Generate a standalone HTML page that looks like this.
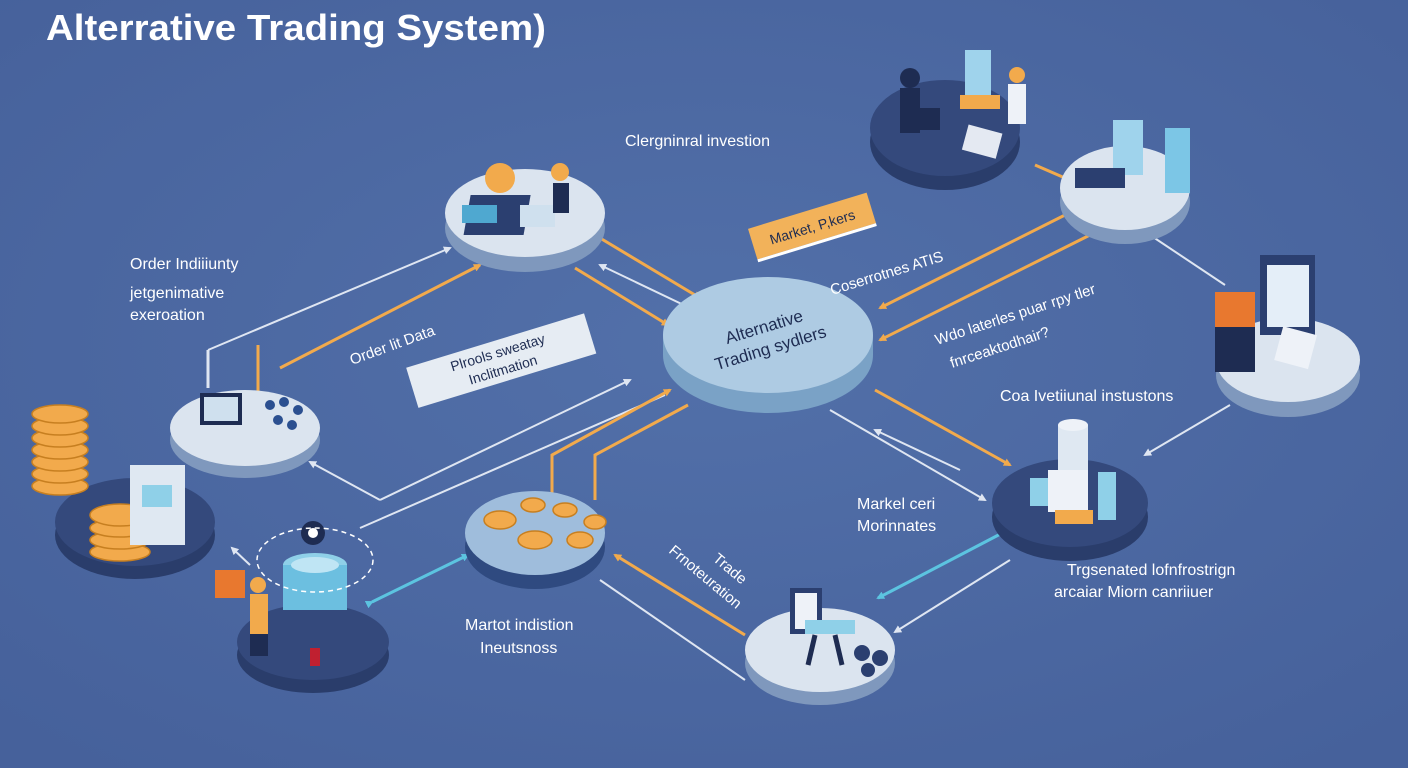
<!DOCTYPE html>
<html><head><meta charset="utf-8"><style>
html,body{margin:0;padding:0;background:#4a66a0;}
svg{display:block;font-family:"Liberation Sans",sans-serif;}
</style></head><body>
<svg width="1408" height="768" viewBox="0 0 1408 768" xmlns="http://www.w3.org/2000/svg">
<defs>
<radialGradient id="bg" cx="50%" cy="45%" r="70%"><stop offset="0" stop-color="#5270a9"/><stop offset="1" stop-color="#46619b"/></radialGradient>
<marker id="ao" markerWidth="8" markerHeight="8" refX="6" refY="4" orient="auto" markerUnits="userSpaceOnUse"><path d="M0,0 L8,4 L0,8 Z" fill="#f2aa4c"/></marker>
<marker id="aw" markerWidth="8" markerHeight="8" refX="6" refY="4" orient="auto" markerUnits="userSpaceOnUse"><path d="M0,0 L8,4 L0,8 Z" fill="#dfe6f2"/></marker>
<marker id="ac" markerWidth="8" markerHeight="8" refX="6" refY="4" orient="auto" markerUnits="userSpaceOnUse"><path d="M0,0 L8,4 L0,8 Z" fill="#5cc4e0"/></marker>
</defs>
<rect width="1408" height="768" fill="url(#bg)"/>
<text x="46" y="40" font-size="36" font-weight="bold" fill="#fff" textLength="500" lengthAdjust="spacingAndGlyphs">Alterrative Trading System)</text>

<!-- connectors -->
<g stroke-width="3" fill="none">
<line x1="280" y1="368" x2="480" y2="265" stroke="#f2aa4c" marker-end="url(#ao)"/>
<line x1="208" y1="388" x2="208" y2="350" stroke="#dfe6f2"/>
<polyline points="208,350 450,248" stroke="#dfe6f2" stroke-width="2" marker-end="url(#aw)"/>
<line x1="258" y1="410" x2="258" y2="345" stroke="#f2aa4c"/>
<line x1="575" y1="268" x2="668" y2="325" stroke="#f2aa4c" marker-end="url(#ao)"/>
<line x1="600" y1="238" x2="700" y2="298" stroke="#f2aa4c" marker-end="url(#ao)"/>
<line x1="690" y1="308" x2="600" y2="265" stroke="#dfe6f2" stroke-width="2" marker-end="url(#aw)"/>
<line x1="1065" y1="215" x2="880" y2="308" stroke="#f2aa4c" marker-end="url(#ao)"/>
<line x1="1100" y1="230" x2="880" y2="340" stroke="#f2aa4c" marker-end="url(#ao)"/>
<line x1="1035" y1="165" x2="1065" y2="178" stroke="#f2aa4c"/>
<line x1="1150" y1="235" x2="1225" y2="285" stroke="#dfe6f2" stroke-width="2"/>
<line x1="1230" y1="405" x2="1145" y2="455" stroke="#dfe6f2" stroke-width="2" marker-end="url(#aw)"/>
<line x1="875" y1="390" x2="1010" y2="465" stroke="#f2aa4c" marker-end="url(#ao)"/>
<line x1="830" y1="410" x2="985" y2="500" stroke="#dfe6f2" stroke-width="2" marker-end="url(#aw)"/>
<line x1="960" y1="470" x2="875" y2="430" stroke="#dfe6f2" stroke-width="2" marker-end="url(#aw)"/>
<line x1="1008" y1="530" x2="878" y2="598" stroke="#5cc4e0" marker-end="url(#ac)"/>
<line x1="1010" y1="560" x2="895" y2="632" stroke="#dfe6f2" stroke-width="2" marker-end="url(#aw)"/>
<line x1="380" y1="500" x2="630" y2="380" stroke="#dfe6f2" stroke-width="2" marker-end="url(#aw)"/>
<polyline points="380,500 310,462" stroke="#dfe6f2" stroke-width="2" marker-end="url(#aw)"/>
<line x1="360" y1="528" x2="665" y2="395" stroke="#dfe6f2" stroke-width="2"/>
<polyline points="552,495 552,455 670,390" stroke="#f2aa4c" marker-end="url(#ao)"/>
<polyline points="595,500 595,455 688,405" stroke="#f2aa4c"/>
<line x1="745" y1="635" x2="615" y2="555" stroke="#f2aa4c" marker-end="url(#ao)"/>
<line x1="745" y1="680" x2="600" y2="580" stroke="#dfe6f2" stroke-width="2"/>
<line x1="372" y1="602" x2="468" y2="555" stroke="#5cc4e0" marker-start="url(#ac)" marker-end="url(#ac)"/>
<line x1="250" y1="565" x2="232" y2="548" stroke="#dfe6f2" stroke-width="2" marker-end="url(#aw)"/>
</g>

<!-- discs -->
<g>
<ellipse cx="525" cy="228" rx="80" ry="44" fill="#7f98bd"/><ellipse cx="525" cy="213" rx="80" ry="44" fill="#dbe4ef"/>
<ellipse cx="945" cy="142" rx="75" ry="48" fill="#2a3d6b"/><ellipse cx="945" cy="128" rx="75" ry="48" fill="#34497c"/>
<ellipse cx="1125" cy="202" rx="65" ry="42" fill="#7f98bd"/><ellipse cx="1125" cy="188" rx="65" ry="42" fill="#dbe4ef"/>
<ellipse cx="1288" cy="375" rx="72" ry="42" fill="#7f98bd"/><ellipse cx="1288" cy="360" rx="72" ry="42" fill="#dbe4ef"/>
<ellipse cx="768" cy="355" rx="105" ry="58" fill="#7aa2c6"/><rect x="663" y="335" width="210" height="20" fill="#7aa2c6"/><ellipse cx="768" cy="335" rx="105" ry="58" fill="#aecbe3"/>
<ellipse cx="245" cy="440" rx="75" ry="38" fill="#7f98bd"/><ellipse cx="245" cy="428" rx="75" ry="38" fill="#dbe4ef"/>
<ellipse cx="135" cy="535" rx="80" ry="44" fill="#2a3d6b"/><ellipse cx="135" cy="522" rx="80" ry="44" fill="#34497c"/>
<ellipse cx="313" cy="655" rx="76" ry="38" fill="#2a3d6b"/><ellipse cx="313" cy="642" rx="76" ry="38" fill="#34497c"/>
<ellipse cx="535" cy="547" rx="70" ry="42" fill="#2f4a80"/><ellipse cx="535" cy="533" rx="70" ry="42" fill="#9fbddc"/>
<ellipse cx="820" cy="663" rx="75" ry="42" fill="#7f98bd"/><ellipse cx="820" cy="650" rx="75" ry="42" fill="#dbe4ef"/>
<ellipse cx="1070" cy="517" rx="78" ry="44" fill="#2a3d6b"/><ellipse cx="1070" cy="503" rx="78" ry="44" fill="#34497c"/>
</g>

<!-- icons (simplified) -->
<g>
<rect x="505" y="195" width="60" height="40" fill="#2b3f70" transform="skewX(-10)"/><rect x="520" y="205" width="35" height="22" fill="#cfe0ee"/>
<circle cx="500" cy="178" r="15" fill="#f2aa4c"/><rect x="462" y="205" width="35" height="18" fill="#4fa8d0"/>
<circle cx="560" cy="172" r="9" fill="#f2aa4c"/><rect x="553" y="183" width="16" height="30" fill="#1e2c52"/>
<rect x="965" y="50" width="26" height="55" fill="#9fd3ec"/><rect x="960" y="95" width="40" height="14" fill="#f2aa4c"/>
<circle cx="910" cy="78" r="10" fill="#1e2c52"/><rect x="900" y="88" width="20" height="45" fill="#1e2c52"/>
<rect x="912" y="108" width="28" height="22" fill="#1e2c52"/>
<circle cx="1017" cy="75" r="8" fill="#f2aa4c"/><rect x="1008" y="84" width="18" height="40" fill="#eef2f8"/>
<rect x="965" y="128" width="35" height="26" fill="#e4e9f2" transform="rotate(15 980 140)"/>
<rect x="1113" y="120" width="30" height="55" fill="#9fd3ec"/><rect x="1165" y="128" width="25" height="65" fill="#7cc6e6"/>
<rect x="1075" y="168" width="50" height="20" fill="#2b3f70"/>
<rect x="1260" y="255" width="55" height="80" fill="#2b3f70"/><rect x="1267" y="265" width="42" height="62" fill="#e4eef8"/>
<rect x="1215" y="292" width="40" height="35" fill="#e8782f"/><rect x="1215" y="327" width="40" height="45" fill="#1e2c52"/>
<rect x="1278" y="330" width="35" height="35" fill="#eef2f8" transform="rotate(15 1295 348)"/>
<rect x="200" y="393" width="42" height="32" fill="#1e2c52"/><rect x="204" y="397" width="34" height="24" fill="#cfe0ee"/>
<g fill="#2b4f90"><circle cx="270" cy="405" r="5"/><circle cx="284" cy="402" r="5"/><circle cx="298" cy="410" r="5"/><circle cx="278" cy="420" r="5"/><circle cx="292" cy="425" r="5"/></g>
<g fill="#f2aa4c" stroke="#c77f20" stroke-width="1.5">
<ellipse cx="60" cy="486" rx="28" ry="9"/><ellipse cx="60" cy="474" rx="28" ry="9"/><ellipse cx="60" cy="462" rx="28" ry="9"/><ellipse cx="60" cy="450" rx="28" ry="9"/><ellipse cx="60" cy="438" rx="28" ry="9"/><ellipse cx="60" cy="426" rx="28" ry="9"/><ellipse cx="60" cy="414" rx="28" ry="9"/>
<ellipse cx="120" cy="552" rx="30" ry="9"/><ellipse cx="120" cy="540" rx="30" ry="9"/><ellipse cx="120" cy="528" rx="30" ry="9"/><ellipse cx="120" cy="515" rx="30" ry="11"/>
</g>
<rect x="130" y="465" width="55" height="80" fill="#dfe8f2"/><rect x="142" y="485" width="30" height="22" fill="#8fd0e8"/>
<ellipse cx="315" cy="565" rx="32" ry="12" fill="#8fd0e8"/><rect x="283" y="565" width="64" height="45" fill="#6cbfe0"/><ellipse cx="315" cy="565" rx="24" ry="8" fill="#bfe5f4"/>
<circle cx="313" cy="533" r="12" fill="#1e2c52"/><circle cx="313" cy="533" r="5" fill="#fff"/>
<ellipse cx="315" cy="560" rx="58" ry="32" fill="none" stroke="#fff" stroke-width="1.5" stroke-dasharray="5 4"/>
<circle cx="258" cy="585" r="8" fill="#f2aa4c"/><rect x="250" y="594" width="18" height="40" fill="#f2aa4c"/><rect x="250" y="634" width="18" height="22" fill="#1e2c52"/>
<rect x="215" y="570" width="30" height="28" fill="#e8782f"/>
<rect x="310" y="648" width="10" height="18" fill="#c02030"/>
<g fill="#f2aa4c" stroke="#c77f20" stroke-width="1.5">
<ellipse cx="500" cy="520" rx="16" ry="9"/><ellipse cx="533" cy="505" rx="12" ry="7"/><ellipse cx="565" cy="510" rx="12" ry="7"/><ellipse cx="595" cy="522" rx="11" ry="7"/><ellipse cx="535" cy="540" rx="17" ry="9"/><ellipse cx="580" cy="540" rx="13" ry="8"/>
</g>
<rect x="790" y="588" width="32" height="46" fill="#2b3f70"/><rect x="795" y="593" width="22" height="36" fill="#eef2f8"/>
<rect x="805" y="620" width="50" height="14" fill="#8fd0e8"/><path d="M815 635 L808 665 M835 635 L842 665" stroke="#1e2c52" stroke-width="5"/>
<circle cx="862" cy="653" r="8" fill="#2b3f70"/><circle cx="880" cy="658" r="8" fill="#2b3f70"/><circle cx="868" cy="670" r="7" fill="#2b3f70"/>
<rect x="1058" y="425" width="30" height="50" fill="#dfe8f2"/><ellipse cx="1073" cy="425" rx="15" ry="6" fill="#eef2f8"/>
<rect x="1048" y="470" width="40" height="42" fill="#eef2f8"/><rect x="1055" y="510" width="38" height="14" fill="#f2aa4c"/>
<rect x="1098" y="472" width="18" height="48" fill="#8fd0e8"/><rect x="1030" y="478" width="18" height="28" fill="#8fd0e8"/>
</g>

<!-- label boxes -->
<g transform="rotate(-17 812 226)"><rect x="750" y="210" width="124" height="32" fill="#f2b25a"/><rect x="750" y="242" width="124" height="3" fill="#fff"/><text x="812" y="232" font-size="14" text-anchor="middle" fill="#1e2c52">Market, P,kers</text></g>
<g transform="rotate(-17 500 360)"><rect x="408" y="340" width="186" height="42" fill="#e6ecf3"/><text x="500" y="357" font-size="14" text-anchor="middle" fill="#1e2c52">Plrools sweatay</text><text x="500" y="375" font-size="14" text-anchor="middle" fill="#1e2c52">Inclitmation</text></g>

<g transform="rotate(-17 768 340)" fill="#1e2c52" font-size="17" text-anchor="middle"><text x="768" y="332">Alternative</text><text x="768" y="354">Trading sydlers</text></g>

<g fill="#fff" font-size="16">
<text x="625" y="146">Clergninral investion</text>
<text x="130" y="269">Order Indiiiunty</text>
<text x="130" y="298">jetgenimative</text>
<text x="130" y="320">exeroation</text>
<text x="1000" y="401">Coa Ivetiiunal instustons</text>
<text x="857" y="509">Markel ceri</text>
<text x="857" y="531">Morinnates</text>
<text x="1067" y="575">Trgsenated lofnfrostrign</text>
<text x="1054" y="597">arcaiar Miorn canriiuer</text>
<text x="465" y="630">Martot indistion</text>
<text x="480" y="653">Ineutsnoss</text>
</g>
<g fill="#fff" font-size="15">
<text x="352" y="365" transform="rotate(-20 352 365)">Order lit Data</text>
<text x="832" y="295" transform="rotate(-17 832 295)">Coserrotnes ATIS</text>
<text x="937" y="345" transform="rotate(-18 937 345)">Wdo laterles puar rpy tler</text>
<text x="952" y="368" transform="rotate(-18 952 368)">fnrceaktodhair?</text>
<text x="712" y="560" transform="rotate(40 712 560)">Trade</text>
<text x="668" y="552" transform="rotate(40 668 552)">Frnoteuration</text>
</g>
</svg>
</body></html>
